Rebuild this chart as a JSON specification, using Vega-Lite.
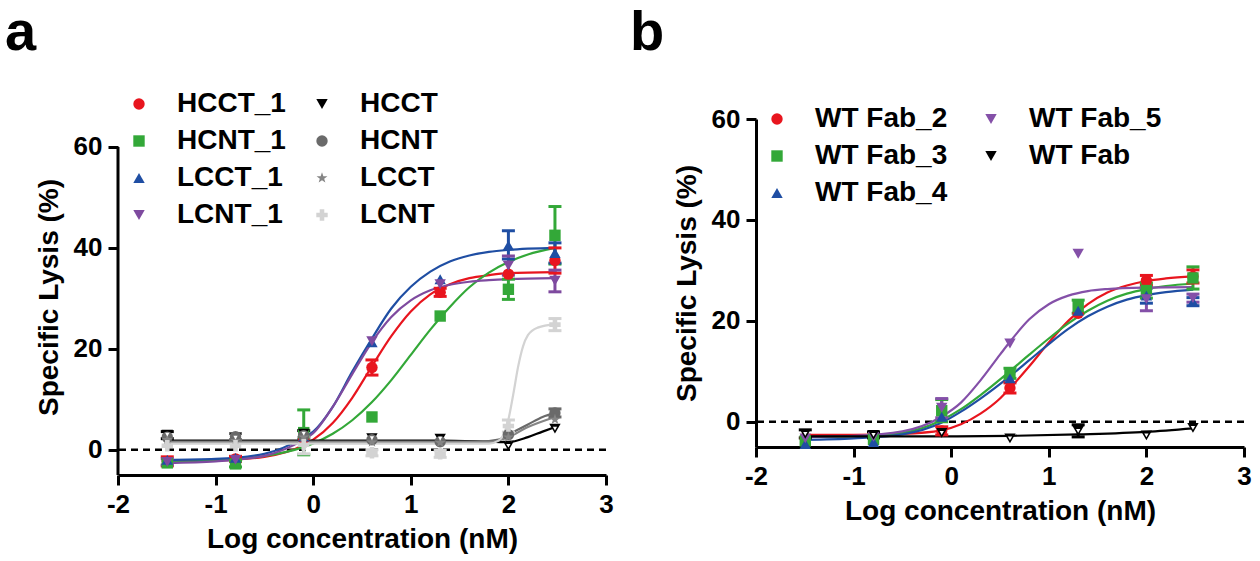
{
  "$schema": "https://vega.github.io/schema/vega-lite/v6.json",
  "background": "white",
  "padding": 5,
  "spacing": 16,
  "datasets": {
    "ptsA": [
      {"s": "HCCT_1", "x": -1.495, "y": -2.3, "lo": -3.2, "hi": -1.4},
      {"s": "HCCT_1", "x": -0.796, "y": -1.8, "lo": -2.3, "hi": -1.3},
      {"s": "HCCT_1", "x": -0.097, "y": 2.2},
      {"s": "HCCT_1", "x": 0.602, "y": 16.3, "lo": 14.8, "hi": 17.8},
      {"s": "HCCT_1", "x": 1.301, "y": 31.2, "lo": 30.4, "hi": 32.0},
      {"s": "HCCT_1", "x": 2.0, "y": 34.8},
      {"s": "HCCT_1", "x": 2.477, "y": 37.5, "lo": 35.0, "hi": 40.0},
      {"s": "HCNT_1", "x": -1.495, "y": -2.6},
      {"s": "HCNT_1", "x": -0.796, "y": -2.8, "lo": -3.4, "hi": -2.2},
      {"s": "HCNT_1", "x": -0.097, "y": 3.4, "lo": -1.0, "hi": 7.9},
      {"s": "HCNT_1", "x": 0.602, "y": 6.5},
      {"s": "HCNT_1", "x": 1.301, "y": 26.5},
      {"s": "HCNT_1", "x": 2.0, "y": 31.8, "lo": 29.8, "hi": 33.8},
      {"s": "HCNT_1", "x": 2.477, "y": 42.5, "lo": 36.8, "hi": 48.2},
      {"s": "LCCT_1", "x": -1.495, "y": -2.0},
      {"s": "LCCT_1", "x": -0.796, "y": -1.6},
      {"s": "LCCT_1", "x": -0.097, "y": 2.6},
      {"s": "LCCT_1", "x": 0.602, "y": 21.3},
      {"s": "LCCT_1", "x": 1.301, "y": 33.8},
      {"s": "LCCT_1", "x": 2.0, "y": 40.5, "lo": 37.8, "hi": 43.4},
      {"s": "LCCT_1", "x": 2.477, "y": 39.0, "lo": 37.0, "hi": 41.0},
      {"s": "LCNT_1", "x": -1.495, "y": -2.4, "lo": -3.0, "hi": -1.8},
      {"s": "LCNT_1", "x": -0.796, "y": -2.0},
      {"s": "LCNT_1", "x": -0.097, "y": 2.3},
      {"s": "LCNT_1", "x": 0.602, "y": 21.5},
      {"s": "LCNT_1", "x": 1.301, "y": 32.8},
      {"s": "LCNT_1", "x": 2.0, "y": 36.5, "lo": 34.6, "hi": 38.4},
      {"s": "LCNT_1", "x": 2.477, "y": 33.5, "lo": 31.3, "hi": 35.6},
      {"s": "HCCT", "x": -1.495, "y": 3.0, "lo": 2.2, "hi": 3.6},
      {"s": "HCCT", "x": -0.796, "y": 2.4},
      {"s": "HCCT", "x": -0.097, "y": 3.2, "lo": 2.4, "hi": 3.8},
      {"s": "HCCT", "x": 0.602, "y": 2.3},
      {"s": "HCCT", "x": 1.301, "y": 2.2},
      {"s": "HCCT", "x": 2.0, "y": 0.8},
      {"s": "HCCT", "x": 2.477, "y": 4.2},
      {"s": "HCNT", "x": -1.495, "y": 2.5},
      {"s": "HCNT", "x": -0.796, "y": 2.6, "lo": 2.0, "hi": 3.2},
      {"s": "HCNT", "x": -0.097, "y": 2.8},
      {"s": "HCNT", "x": 0.602, "y": 2.0},
      {"s": "HCNT", "x": 1.301, "y": 1.6},
      {"s": "HCNT", "x": 2.0, "y": 3.0},
      {"s": "HCNT", "x": 2.477, "y": 7.3, "lo": 6.5, "hi": 8.1},
      {"s": "LCCT", "x": -1.495, "y": 2.0},
      {"s": "LCCT", "x": -0.796, "y": 1.8},
      {"s": "LCCT", "x": -0.097, "y": 2.5},
      {"s": "LCCT", "x": 0.602, "y": 1.5},
      {"s": "LCCT", "x": 1.301, "y": 1.4},
      {"s": "LCCT", "x": 2.0, "y": 2.5},
      {"s": "LCCT", "x": 2.477, "y": 6.0},
      {"s": "LCNT", "x": -1.495, "y": 0.8},
      {"s": "LCNT", "x": -0.796, "y": 0.8},
      {"s": "LCNT", "x": -0.097, "y": 1.0, "lo": -0.8, "hi": 2.5},
      {"s": "LCNT", "x": 0.602, "y": -0.6, "lo": -1.2, "hi": 0.0},
      {"s": "LCNT", "x": 1.301, "y": -0.8, "lo": -1.5, "hi": -0.1},
      {"s": "LCNT", "x": 2.0, "y": 4.7, "lo": 3.5, "hi": 5.9},
      {"s": "LCNT", "x": 2.477, "y": 24.8, "lo": 23.6, "hi": 26.0}
    ],
    "crvA": [
      {"s": "HCCT_1", "x": -1.5, "y": -2.27}, {"s": "HCCT_1", "x": -1.0, "y": -2.13}, {"s": "HCCT_1", "x": -0.5, "y": -1.4}, {"s": "HCCT_1", "x": -0.1, "y": 0.9}, {"s": "HCCT_1", "x": 0.0, "y": 2.0}, {"s": "HCCT_1", "x": 0.2, "y": 5.3}, {"s": "HCCT_1", "x": 0.4, "y": 10.3}, {"s": "HCCT_1", "x": 0.6, "y": 16.5}, {"s": "HCCT_1", "x": 0.8, "y": 22.5}, {"s": "HCCT_1", "x": 1.0, "y": 27.4}, {"s": "HCCT_1", "x": 1.2, "y": 30.8}, {"s": "HCCT_1", "x": 1.4, "y": 32.8}, {"s": "HCCT_1", "x": 1.6, "y": 34.0}, {"s": "HCCT_1", "x": 1.8, "y": 34.6}, {"s": "HCCT_1", "x": 2.0, "y": 35.0}, {"s": "HCCT_1", "x": 2.48, "y": 35.2},
      {"s": "HCNT_1", "x": -1.5, "y": -2.37}, {"s": "HCNT_1", "x": -1.0, "y": -2.09}, {"s": "HCNT_1", "x": -0.5, "y": -1.24}, {"s": "HCNT_1", "x": -0.1, "y": 0.53}, {"s": "HCNT_1", "x": 0.0, "y": 1.26}, {"s": "HCNT_1", "x": 0.2, "y": 3.17}, {"s": "HCNT_1", "x": 0.4, "y": 5.85}, {"s": "HCNT_1", "x": 0.6, "y": 9.4}, {"s": "HCNT_1", "x": 0.8, "y": 13.8}, {"s": "HCNT_1", "x": 1.0, "y": 18.8}, {"s": "HCNT_1", "x": 1.2, "y": 23.8}, {"s": "HCNT_1", "x": 1.4, "y": 28.3}, {"s": "HCNT_1", "x": 1.6, "y": 32.2}, {"s": "HCNT_1", "x": 1.8, "y": 35.1}, {"s": "HCNT_1", "x": 2.0, "y": 37.2}, {"s": "HCNT_1", "x": 2.2, "y": 38.7}, {"s": "HCNT_1", "x": 2.48, "y": 40.0},
      {"s": "LCCT_1", "x": -1.5, "y": -2.0}, {"s": "LCCT_1", "x": -1.0, "y": -1.8}, {"s": "LCCT_1", "x": -0.5, "y": -0.8}, {"s": "LCCT_1", "x": -0.1, "y": 2.4}, {"s": "LCCT_1", "x": 0.0, "y": 3.6}, {"s": "LCCT_1", "x": 0.2, "y": 8.5}, {"s": "LCCT_1", "x": 0.4, "y": 15.5}, {"s": "LCCT_1", "x": 0.6, "y": 22.0}, {"s": "LCCT_1", "x": 0.8, "y": 28.0}, {"s": "LCCT_1", "x": 1.0, "y": 32.3}, {"s": "LCCT_1", "x": 1.2, "y": 35.3}, {"s": "LCCT_1", "x": 1.4, "y": 37.3}, {"s": "LCCT_1", "x": 1.6, "y": 38.5}, {"s": "LCCT_1", "x": 1.8, "y": 39.2}, {"s": "LCCT_1", "x": 2.0, "y": 39.6}, {"s": "LCCT_1", "x": 2.48, "y": 40.0},
      {"s": "LCNT_1", "x": -1.5, "y": -2.6}, {"s": "LCNT_1", "x": -1.0, "y": -2.3}, {"s": "LCNT_1", "x": -0.5, "y": -1.2}, {"s": "LCNT_1", "x": -0.1, "y": 2.0}, {"s": "LCNT_1", "x": 0.0, "y": 3.3}, {"s": "LCNT_1", "x": 0.2, "y": 8.5}, {"s": "LCNT_1", "x": 0.4, "y": 15.0}, {"s": "LCNT_1", "x": 0.6, "y": 21.3}, {"s": "LCNT_1", "x": 0.8, "y": 26.3}, {"s": "LCNT_1", "x": 1.0, "y": 29.6}, {"s": "LCNT_1", "x": 1.2, "y": 31.6}, {"s": "LCNT_1", "x": 1.4, "y": 32.7}, {"s": "LCNT_1", "x": 1.6, "y": 33.3}, {"s": "LCNT_1", "x": 1.8, "y": 33.6}, {"s": "LCNT_1", "x": 2.0, "y": 33.8}, {"s": "LCNT_1", "x": 2.48, "y": 34.0},
      {"s": "HCCT", "x": -1.5, "y": 1.8}, {"s": "HCCT", "x": 0.5, "y": 1.8}, {"s": "HCCT", "x": 1.3, "y": 1.8}, {"s": "HCCT", "x": 1.8, "y": 1.6}, {"s": "HCCT", "x": 2.0, "y": 1.5}, {"s": "HCCT", "x": 2.2, "y": 2.5}, {"s": "HCCT", "x": 2.35, "y": 3.6}, {"s": "HCCT", "x": 2.48, "y": 4.5},
      {"s": "HCNT", "x": -1.5, "y": 1.6}, {"s": "HCNT", "x": 0.5, "y": 1.6}, {"s": "HCNT", "x": 1.7, "y": 1.6}, {"s": "HCNT", "x": 1.9, "y": 2.0}, {"s": "HCNT", "x": 2.0, "y": 3.0}, {"s": "HCNT", "x": 2.2, "y": 5.0}, {"s": "HCNT", "x": 2.35, "y": 6.5}, {"s": "HCNT", "x": 2.48, "y": 7.3},
      {"s": "LCCT", "x": -1.5, "y": 1.5}, {"s": "LCCT", "x": 0.5, "y": 1.5}, {"s": "LCCT", "x": 1.8, "y": 1.5}, {"s": "LCCT", "x": 2.0, "y": 2.5}, {"s": "LCCT", "x": 2.2, "y": 4.5}, {"s": "LCCT", "x": 2.48, "y": 6.5},
      {"s": "LCNT", "x": -1.5, "y": 1.2}, {"s": "LCNT", "x": 0.5, "y": 1.2}, {"s": "LCNT", "x": 1.8, "y": 1.2}, {"s": "LCNT", "x": 1.9, "y": 1.8}, {"s": "LCNT", "x": 1.95, "y": 3.0}, {"s": "LCNT", "x": 2.0, "y": 6.0}, {"s": "LCNT", "x": 2.05, "y": 11.0}, {"s": "LCNT", "x": 2.1, "y": 16.5}, {"s": "LCNT", "x": 2.15, "y": 20.5}, {"s": "LCNT", "x": 2.2, "y": 22.7}, {"s": "LCNT", "x": 2.3, "y": 24.2}, {"s": "LCNT", "x": 2.48, "y": 24.9}
    ],
    "ptsB": [
      {"s": "WT Fab_2", "x": -1.495, "y": -3.2},
      {"s": "WT Fab_2", "x": -0.796, "y": -3.0},
      {"s": "WT Fab_2", "x": -0.097, "y": -1.8, "lo": -2.6, "hi": -1.0},
      {"s": "WT Fab_2", "x": 0.602, "y": 6.7, "lo": 5.7, "hi": 7.7},
      {"s": "WT Fab_2", "x": 1.301, "y": 21.5},
      {"s": "WT Fab_2", "x": 2.0, "y": 28.0, "lo": 27.0, "hi": 29.0},
      {"s": "WT Fab_2", "x": 2.477, "y": 28.8, "lo": 27.5, "hi": 30.1},
      {"s": "WT Fab_3", "x": -1.495, "y": -3.8},
      {"s": "WT Fab_3", "x": -0.796, "y": -3.5},
      {"s": "WT Fab_3", "x": -0.097, "y": 2.2, "lo": 0.0, "hi": 4.4},
      {"s": "WT Fab_3", "x": 0.602, "y": 9.6, "lo": 8.6, "hi": 10.6},
      {"s": "WT Fab_3", "x": 1.301, "y": 22.8, "lo": 21.5, "hi": 24.1},
      {"s": "WT Fab_3", "x": 2.0, "y": 26.0, "lo": 24.5, "hi": 27.5},
      {"s": "WT Fab_3", "x": 2.477, "y": 28.5, "lo": 26.3, "hi": 30.7},
      {"s": "WT Fab_4", "x": -1.495, "y": -4.4},
      {"s": "WT Fab_4", "x": -0.796, "y": -4.0},
      {"s": "WT Fab_4", "x": -0.097, "y": 1.0},
      {"s": "WT Fab_4", "x": 0.602, "y": 8.6},
      {"s": "WT Fab_4", "x": 1.301, "y": 22.0},
      {"s": "WT Fab_4", "x": 2.0, "y": 25.0, "lo": 23.5, "hi": 26.5},
      {"s": "WT Fab_4", "x": 2.477, "y": 23.8, "lo": 23.0, "hi": 24.6},
      {"s": "WT Fab_5", "x": -1.495, "y": -3.3},
      {"s": "WT Fab_5", "x": -0.796, "y": -3.0},
      {"s": "WT Fab_5", "x": -0.097, "y": 2.8, "lo": 0.8, "hi": 4.6},
      {"s": "WT Fab_5", "x": 0.602, "y": 15.5},
      {"s": "WT Fab_5", "x": 1.301, "y": 33.3},
      {"s": "WT Fab_5", "x": 2.0, "y": 24.3, "lo": 22.0, "hi": 26.6},
      {"s": "WT Fab_5", "x": 2.477, "y": 24.5, "lo": 23.7, "hi": 25.3},
      {"s": "WT Fab", "x": -1.495, "y": -2.4, "lo": -3.2, "hi": -1.6},
      {"s": "WT Fab", "x": -0.796, "y": -2.6, "lo": -3.2, "hi": -2.0},
      {"s": "WT Fab", "x": -0.097, "y": -2.2},
      {"s": "WT Fab", "x": 0.602, "y": -3.3},
      {"s": "WT Fab", "x": 1.301, "y": -1.8, "lo": -3.0, "hi": -0.6},
      {"s": "WT Fab", "x": 2.0, "y": -2.7},
      {"s": "WT Fab", "x": 2.477, "y": -1.2}
    ],
    "crvB": [
      {"s": "WT Fab_2", "x": -1.5, "y": -2.6}, {"s": "WT Fab_2", "x": -1.0, "y": -2.6}, {"s": "WT Fab_2", "x": -0.5, "y": -2.4}, {"s": "WT Fab_2", "x": -0.1, "y": -1.7}, {"s": "WT Fab_2", "x": 0.1, "y": -0.5}, {"s": "WT Fab_2", "x": 0.3, "y": 1.6}, {"s": "WT Fab_2", "x": 0.5, "y": 4.6}, {"s": "WT Fab_2", "x": 0.6, "y": 6.6}, {"s": "WT Fab_2", "x": 0.8, "y": 11.0}, {"s": "WT Fab_2", "x": 1.0, "y": 15.7}, {"s": "WT Fab_2", "x": 1.2, "y": 20.0}, {"s": "WT Fab_2", "x": 1.4, "y": 23.3}, {"s": "WT Fab_2", "x": 1.6, "y": 25.6}, {"s": "WT Fab_2", "x": 1.8, "y": 27.0}, {"s": "WT Fab_2", "x": 2.0, "y": 27.9}, {"s": "WT Fab_2", "x": 2.2, "y": 28.4}, {"s": "WT Fab_2", "x": 2.48, "y": 28.8},
      {"s": "WT Fab_3", "x": -1.5, "y": -3.0}, {"s": "WT Fab_3", "x": -1.0, "y": -2.9}, {"s": "WT Fab_3", "x": -0.5, "y": -2.2}, {"s": "WT Fab_3", "x": -0.1, "y": 0.3}, {"s": "WT Fab_3", "x": 0.1, "y": 2.5}, {"s": "WT Fab_3", "x": 0.3, "y": 5.3}, {"s": "WT Fab_3", "x": 0.6, "y": 10.0}, {"s": "WT Fab_3", "x": 0.8, "y": 13.3}, {"s": "WT Fab_3", "x": 1.0, "y": 16.5}, {"s": "WT Fab_3", "x": 1.2, "y": 19.5}, {"s": "WT Fab_3", "x": 1.4, "y": 22.0}, {"s": "WT Fab_3", "x": 1.6, "y": 24.0}, {"s": "WT Fab_3", "x": 1.8, "y": 25.4}, {"s": "WT Fab_3", "x": 2.0, "y": 26.3}, {"s": "WT Fab_3", "x": 2.2, "y": 26.9}, {"s": "WT Fab_3", "x": 2.48, "y": 27.4},
      {"s": "WT Fab_4", "x": -1.5, "y": -3.6}, {"s": "WT Fab_4", "x": -1.0, "y": -3.3}, {"s": "WT Fab_4", "x": -0.5, "y": -2.5}, {"s": "WT Fab_4", "x": -0.1, "y": -0.2}, {"s": "WT Fab_4", "x": 0.1, "y": 2.0}, {"s": "WT Fab_4", "x": 0.3, "y": 4.6}, {"s": "WT Fab_4", "x": 0.6, "y": 9.0}, {"s": "WT Fab_4", "x": 0.8, "y": 12.2}, {"s": "WT Fab_4", "x": 1.0, "y": 15.4}, {"s": "WT Fab_4", "x": 1.2, "y": 18.4}, {"s": "WT Fab_4", "x": 1.4, "y": 20.9}, {"s": "WT Fab_4", "x": 1.6, "y": 22.8}, {"s": "WT Fab_4", "x": 1.8, "y": 24.2}, {"s": "WT Fab_4", "x": 2.0, "y": 25.1}, {"s": "WT Fab_4", "x": 2.2, "y": 25.7}, {"s": "WT Fab_4", "x": 2.48, "y": 26.2},
      {"s": "WT Fab_5", "x": -1.5, "y": -3.0}, {"s": "WT Fab_5", "x": -1.0, "y": -2.8}, {"s": "WT Fab_5", "x": -0.5, "y": -1.9}, {"s": "WT Fab_5", "x": -0.1, "y": 1.0}, {"s": "WT Fab_5", "x": 0.1, "y": 3.8}, {"s": "WT Fab_5", "x": 0.3, "y": 8.2}, {"s": "WT Fab_5", "x": 0.5, "y": 13.3}, {"s": "WT Fab_5", "x": 0.6, "y": 15.8}, {"s": "WT Fab_5", "x": 0.8, "y": 20.3}, {"s": "WT Fab_5", "x": 1.0, "y": 23.3}, {"s": "WT Fab_5", "x": 1.2, "y": 25.0}, {"s": "WT Fab_5", "x": 1.4, "y": 25.9}, {"s": "WT Fab_5", "x": 1.6, "y": 26.3}, {"s": "WT Fab_5", "x": 2.0, "y": 26.6}, {"s": "WT Fab_5", "x": 2.48, "y": 26.7},
      {"s": "WT Fab", "x": -1.495, "y": -2.9}, {"s": "WT Fab", "x": -0.796, "y": -2.9}, {"s": "WT Fab", "x": -0.097, "y": -2.9}, {"s": "WT Fab", "x": 0.602, "y": -2.8}, {"s": "WT Fab", "x": 1.301, "y": -2.5}, {"s": "WT Fab", "x": 2.0, "y": -2.0}, {"s": "WT Fab", "x": 2.477, "y": -1.3}
    ]
  },
  "resolve": {"scale": {"color": "independent", "shape": "independent", "stroke": "independent"}, "legend": {"color": "independent", "shape": "independent"}},
  "hconcat": [
    {
      "width": 488,
      "height": 356,
      "title": {"text": "a", "fontSize": 56, "font": "Liberation Sans", "fontWeight": "bold", "anchor": "start", "frame": "group", "dx": -113, "offset": -16, "baseline": "alphabetic", "color": "black"},
      "layer": [
        {
          "data": {"values": [{"x": -2, "lo": -5, "hi": 60}]},
          "mark": {"type": "rule", "strokeWidth": 3, "color": "black"},
          "encoding": {
            "x": {"field": "x", "type": "quantitative", "scale": {"domain": [-2, 3], "nice": false}, "axis": {"title": "Log concentration (nM)", "values": [-2, -1, 0, 1, 2, 3], "labelExpr": "replace(datum.label, '−', '-')"}},
            "y": {"field": "lo", "type": "quantitative", "scale": {"domain": [-5, 65.545], "nice": false}, "axis": {"title": "Specific Lysis (%)", "values": [0, 20, 40, 60], "domain": false}},
            "y2": {"field": "hi"}
          }
        },
        {
          "data": {"values": [{"z": 0}]},
          "mark": {"type": "rule", "strokeDash": [7, 5], "strokeWidth": 2.5, "color": "black"},
          "encoding": {
            "y": {"field": "z", "type": "quantitative", "scale": {"domain": [-5, 65.545], "nice": false}, "axis": {"title": "Specific Lysis (%)", "values": [0, 20, 40, 60], "domain": false}}
          }
        },
        {
          "data": {"name": "crvA"},
          "mark": {"type": "line", "interpolate": "monotone", "strokeWidth": 2.2},
          "encoding": {
            "x": {"field": "x", "type": "quantitative", "scale": {"domain": [-2, 3], "nice": false}, "axis": {"title": "Log concentration (nM)", "values": [-2, -1, 0, 1, 2, 3], "labelExpr": "replace(datum.label, '−', '-')"}},
            "y": {"field": "y", "type": "quantitative", "scale": {"domain": [-5, 65.545], "nice": false}, "axis": {"title": "Specific Lysis (%)", "values": [0, 20, 40, 60], "domain": false}},
            "stroke": {"field": "s", "type": "nominal", "scale": {"domain": ["LCNT", "LCCT", "HCNT", "HCCT", "LCNT_1", "LCCT_1", "HCNT_1", "HCCT_1"], "range": ["#d3d3d3", "#858585", "#6a6a6a", "#000000", "#7e4a9f", "#1f4ea3", "#33a838", "#e8151e"]}, "legend": null}
          }
        },
        {
          "data": {"name": "ptsA"},
          "transform": [{"filter": "isValid(datum.lo)"}],
          "mark": {"type": "rule", "strokeWidth": 3},
          "encoding": {
            "x": {"field": "x", "type": "quantitative", "scale": {"domain": [-2, 3], "nice": false}, "axis": {"title": "Log concentration (nM)", "values": [-2, -1, 0, 1, 2, 3], "labelExpr": "replace(datum.label, '−', '-')"}},
            "y": {"field": "lo", "type": "quantitative", "scale": {"domain": [-5, 65.545], "nice": false}, "axis": {"title": "Specific Lysis (%)", "values": [0, 20, 40, 60], "domain": false}},
            "y2": {"field": "hi"},
            "stroke": {"field": "s", "type": "nominal", "scale": {"domain": ["LCNT", "LCCT", "HCNT", "HCCT", "LCNT_1", "LCCT_1", "HCNT_1", "HCCT_1"], "range": ["#d3d3d3", "#858585", "#6a6a6a", "#000000", "#7e4a9f", "#1f4ea3", "#33a838", "#e8151e"]}, "legend": null}
          }
        },
        {
          "data": {"name": "ptsA"},
          "transform": [{"filter": "isValid(datum.lo)"}],
          "mark": {"type": "point", "shape": "stroke", "filled": false, "size": 169, "strokeWidth": 3, "opacity": 1},
          "encoding": {
            "x": {"field": "x", "type": "quantitative", "scale": {"domain": [-2, 3], "nice": false}, "axis": {"title": "Log concentration (nM)", "values": [-2, -1, 0, 1, 2, 3], "labelExpr": "replace(datum.label, '−', '-')"}},
            "y": {"field": "lo", "type": "quantitative", "scale": {"domain": [-5, 65.545], "nice": false}, "axis": {"title": "Specific Lysis (%)", "values": [0, 20, 40, 60], "domain": false}},
            "stroke": {"field": "s", "type": "nominal", "scale": {"domain": ["LCNT", "LCCT", "HCNT", "HCCT", "LCNT_1", "LCCT_1", "HCNT_1", "HCCT_1"], "range": ["#d3d3d3", "#858585", "#6a6a6a", "#000000", "#7e4a9f", "#1f4ea3", "#33a838", "#e8151e"]}, "legend": null}
          }
        },
        {
          "data": {"name": "ptsA"},
          "transform": [{"filter": "isValid(datum.hi)"}],
          "mark": {"type": "point", "shape": "stroke", "filled": false, "size": 169, "strokeWidth": 3, "opacity": 1},
          "encoding": {
            "x": {"field": "x", "type": "quantitative", "scale": {"domain": [-2, 3], "nice": false}, "axis": {"title": "Log concentration (nM)", "values": [-2, -1, 0, 1, 2, 3], "labelExpr": "replace(datum.label, '−', '-')"}},
            "y": {"field": "hi", "type": "quantitative", "scale": {"domain": [-5, 65.545], "nice": false}, "axis": {"title": "Specific Lysis (%)", "values": [0, 20, 40, 60], "domain": false}},
            "stroke": {"field": "s", "type": "nominal", "scale": {"domain": ["LCNT", "LCCT", "HCNT", "HCCT", "LCNT_1", "LCCT_1", "HCNT_1", "HCCT_1"], "range": ["#d3d3d3", "#858585", "#6a6a6a", "#000000", "#7e4a9f", "#1f4ea3", "#33a838", "#e8151e"]}, "legend": null}
          }
        },
        {
          "data": {"name": "ptsA"},
          "mark": {"type": "point", "filled": true, "size": 130, "opacity": 1},
          "encoding": {
            "x": {"field": "x", "type": "quantitative", "scale": {"domain": [-2, 3], "nice": false}, "axis": {"title": "Log concentration (nM)", "values": [-2, -1, 0, 1, 2, 3], "labelExpr": "replace(datum.label, '−', '-')"}},
            "y": {"field": "y", "type": "quantitative", "scale": {"domain": [-5, 65.545], "nice": false}, "axis": {"title": "Specific Lysis (%)", "values": [0, 20, 40, 60], "domain": false}},
            "color": {"field": "s", "type": "nominal", "scale": {"domain": ["HCCT_1", "HCNT_1", "LCCT_1", "LCNT_1", "HCCT", "HCNT", "LCCT", "LCNT"], "range": ["#e8151e", "#33a838", "#1f4ea3", "#7e4a9f", "#000000", "#6a6a6a", "#858585", "#d3d3d3"]},
              "legend": {"orient": "none", "legendX": 7, "legendY": -29, "columns": 2, "columnPadding": 22, "rowPadding": 9, "labelOffset": 24, "symbolSize": 130, "title": null, "labelFont": "Liberation Sans", "labelFontWeight": "bold", "labelFontSize": 28, "labelColor": "#000000", "labelLimit": 400}},
            "shape": {"field": "s", "type": "nominal", "scale": {"domain": ["HCCT_1", "HCNT_1", "LCCT_1", "LCNT_1", "HCCT", "HCNT", "LCCT", "LCNT"], "range": ["circle", "square", "triangle-up", "triangle-down", "triangle-down", "circle", "M0,-1L0.24,-0.31L0.95,-0.31L0.38,0.12L0.59,0.81L0,0.38L-0.59,0.81L-0.38,0.12L-0.95,-0.31L-0.24,-0.31Z", "cross"]}}
          }
        },
        {
          "data": {"name": "ptsA"},
          "transform": [{"filter": "datum.s == 'HCCT'"}],
          "mark": {"type": "point", "filled": true, "size": 18, "shape": "triangle-down", "fill": "white", "opacity": 1},
          "encoding": {
            "x": {"field": "x", "type": "quantitative", "scale": {"domain": [-2, 3], "nice": false}, "axis": {"title": "Log concentration (nM)", "values": [-2, -1, 0, 1, 2, 3], "labelExpr": "replace(datum.label, '−', '-')"}},
            "y": {"field": "y", "type": "quantitative", "scale": {"domain": [-5, 65.545], "nice": false}, "axis": {"title": "Specific Lysis (%)", "values": [0, 20, 40, 60], "domain": false}}
          }
        }
      ]
    },
    {
      "width": 488,
      "height": 328,
      "title": {"text": "b", "fontSize": 56, "font": "Liberation Sans", "fontWeight": "bold", "anchor": "start", "frame": "group", "dx": -126, "offset": -1, "baseline": "alphabetic", "color": "black"},
      "layer": [
        {
          "data": {"values": [{"z": 0}]},
          "mark": {"type": "rule", "strokeDash": [7, 5], "strokeWidth": 2.5, "color": "black"},
          "encoding": {
            "y": {"field": "z", "type": "quantitative", "scale": {"domain": [-5, 60], "nice": false}, "axis": {"title": "Specific Lysis (%)", "values": [0, 20, 40, 60]}}
          }
        },
        {
          "data": {"name": "crvB"},
          "mark": {"type": "line", "interpolate": "monotone", "strokeWidth": 2.2},
          "encoding": {
            "x": {"field": "x", "type": "quantitative", "scale": {"domain": [-2, 3], "nice": false}, "axis": {"title": "Log concentration (nM)", "values": [-2, -1, 0, 1, 2, 3], "labelExpr": "replace(datum.label, '−', '-')"}},
            "y": {"field": "y", "type": "quantitative", "scale": {"domain": [-5, 60], "nice": false}, "axis": {"title": "Specific Lysis (%)", "values": [0, 20, 40, 60]}},
            "stroke": {"field": "s", "type": "nominal", "scale": {"domain": ["WT Fab", "WT Fab_5", "WT Fab_4", "WT Fab_3", "WT Fab_2"], "range": ["#000000", "#8450a8", "#1f4ea3", "#33a838", "#e8151e"]}, "legend": null}
          }
        },
        {
          "data": {"name": "ptsB"},
          "transform": [{"filter": "isValid(datum.lo)"}],
          "mark": {"type": "rule", "strokeWidth": 3},
          "encoding": {
            "x": {"field": "x", "type": "quantitative", "scale": {"domain": [-2, 3], "nice": false}, "axis": {"title": "Log concentration (nM)", "values": [-2, -1, 0, 1, 2, 3], "labelExpr": "replace(datum.label, '−', '-')"}},
            "y": {"field": "lo", "type": "quantitative", "scale": {"domain": [-5, 60], "nice": false}, "axis": {"title": "Specific Lysis (%)", "values": [0, 20, 40, 60]}},
            "y2": {"field": "hi"},
            "stroke": {"field": "s", "type": "nominal", "scale": {"domain": ["WT Fab", "WT Fab_5", "WT Fab_4", "WT Fab_3", "WT Fab_2"], "range": ["#000000", "#8450a8", "#1f4ea3", "#33a838", "#e8151e"]}, "legend": null}
          }
        },
        {
          "data": {"name": "ptsB"},
          "transform": [{"filter": "isValid(datum.lo)"}],
          "mark": {"type": "point", "shape": "stroke", "filled": false, "size": 169, "strokeWidth": 3, "opacity": 1},
          "encoding": {
            "x": {"field": "x", "type": "quantitative", "scale": {"domain": [-2, 3], "nice": false}, "axis": {"title": "Log concentration (nM)", "values": [-2, -1, 0, 1, 2, 3], "labelExpr": "replace(datum.label, '−', '-')"}},
            "y": {"field": "lo", "type": "quantitative", "scale": {"domain": [-5, 60], "nice": false}, "axis": {"title": "Specific Lysis (%)", "values": [0, 20, 40, 60]}},
            "stroke": {"field": "s", "type": "nominal", "scale": {"domain": ["WT Fab", "WT Fab_5", "WT Fab_4", "WT Fab_3", "WT Fab_2"], "range": ["#000000", "#8450a8", "#1f4ea3", "#33a838", "#e8151e"]}, "legend": null}
          }
        },
        {
          "data": {"name": "ptsB"},
          "transform": [{"filter": "isValid(datum.hi)"}],
          "mark": {"type": "point", "shape": "stroke", "filled": false, "size": 169, "strokeWidth": 3, "opacity": 1},
          "encoding": {
            "x": {"field": "x", "type": "quantitative", "scale": {"domain": [-2, 3], "nice": false}, "axis": {"title": "Log concentration (nM)", "values": [-2, -1, 0, 1, 2, 3], "labelExpr": "replace(datum.label, '−', '-')"}},
            "y": {"field": "hi", "type": "quantitative", "scale": {"domain": [-5, 60], "nice": false}, "axis": {"title": "Specific Lysis (%)", "values": [0, 20, 40, 60]}},
            "stroke": {"field": "s", "type": "nominal", "scale": {"domain": ["WT Fab", "WT Fab_5", "WT Fab_4", "WT Fab_3", "WT Fab_2"], "range": ["#000000", "#8450a8", "#1f4ea3", "#33a838", "#e8151e"]}, "legend": null}
          }
        },
        {
          "data": {"name": "ptsB"},
          "mark": {"type": "point", "filled": true, "size": 130, "opacity": 1},
          "encoding": {
            "x": {"field": "x", "type": "quantitative", "scale": {"domain": [-2, 3], "nice": false}, "axis": {"title": "Log concentration (nM)", "values": [-2, -1, 0, 1, 2, 3], "labelExpr": "replace(datum.label, '−', '-')"}},
            "y": {"field": "y", "type": "quantitative", "scale": {"domain": [-5, 60], "nice": false}, "axis": {"title": "Specific Lysis (%)", "values": [0, 20, 40, 60]}},
            "color": {"field": "s", "type": "nominal", "scale": {"domain": ["WT Fab_2", "WT Fab_3", "WT Fab_4", "WT Fab_5", "WT Fab"], "range": ["#e8151e", "#33a838", "#1f4ea3", "#8450a8", "#000000"]},
              "legend": {"orient": "none", "legendX": 7, "legendY": -14, "columns": 2, "columnPadding": 29, "rowPadding": 9, "labelOffset": 24, "symbolSize": 130, "title": null, "labelFont": "Liberation Sans", "labelFontWeight": "bold", "labelFontSize": 28, "labelColor": "#000000", "labelLimit": 400}},
            "shape": {"field": "s", "type": "nominal", "scale": {"domain": ["WT Fab_2", "WT Fab_3", "WT Fab_4", "WT Fab_5", "WT Fab"], "range": ["circle", "square", "triangle-up", "triangle-down", "triangle-down"]}}
          }
        },
        {
          "data": {"name": "ptsB"},
          "transform": [{"filter": "datum.s == 'WT Fab'"}],
          "mark": {"type": "point", "filled": true, "size": 18, "shape": "triangle-down", "fill": "white", "opacity": 1},
          "encoding": {
            "x": {"field": "x", "type": "quantitative", "scale": {"domain": [-2, 3], "nice": false}, "axis": {"title": "Log concentration (nM)", "values": [-2, -1, 0, 1, 2, 3], "labelExpr": "replace(datum.label, '−', '-')"}},
            "y": {"field": "y", "type": "quantitative", "scale": {"domain": [-5, 60], "nice": false}, "axis": {"title": "Specific Lysis (%)", "values": [0, 20, 40, 60]}}
          }
        }
      ]
    }
  ],
  "config": {
    "view": {"stroke": null},
    "axis": {"domainWidth": 3, "domainColor": "#000000", "tickWidth": 3, "tickColor": "#000000", "tickSize": 10, "labelFont": "Liberation Sans", "labelFontWeight": "bold", "labelFontSize": 26, "labelColor": "#000000", "titleFont": "Liberation Sans", "titleFontWeight": "bold", "titleFontSize": 28, "titleColor": "#000000", "grid": false, "labelPadding": 6, "labelFlush": false, "labelOverlap": false},
    "axisX": {"titlePadding": 8},
    "axisY": {"titlePadding": 10}
  }
}
